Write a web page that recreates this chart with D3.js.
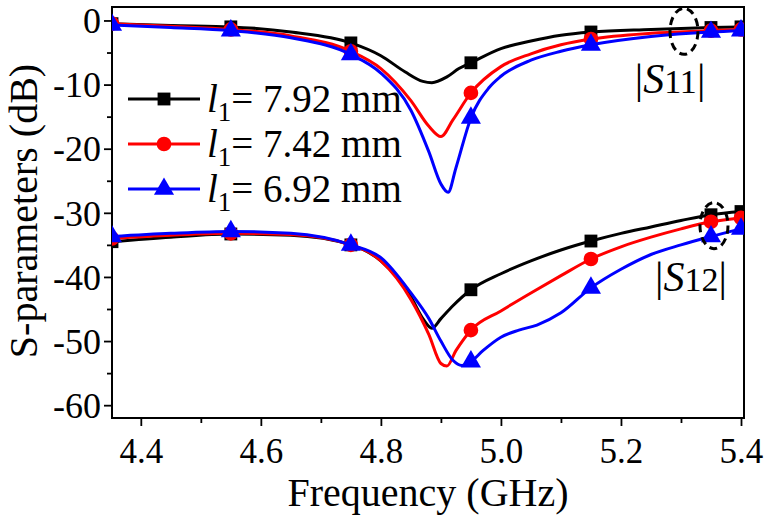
<!DOCTYPE html>
<html>
<head>
<meta charset="utf-8">
<script src="https://cdn.jsdelivr.net/npm/d3@7"></script>
<style>
  body { margin: 0; background: #fff; }
  text { font-family: "Liberation Serif", "Times New Roman", serif; fill: #000; }
</style>
</head>
<body>
<div id="chart"></div>
<script>
const freq11 = [4.352, 4.45, 4.55, 4.65, 4.75, 4.8, 4.84, 4.87, 4.885, 4.91, 4.93, 4.95, 5.0, 5.05, 5.1, 5.15, 5.25, 5.35, 5.4];
const s11Black = [-0.5, -0.8, -1.0, -1.8, -3.5, -5.5, -8, -9.5, -9.7, -8.8, -7.5, -6.6, -4.4, -3.2, -2.3, -1.8, -1.4, -1.1, -1.0];

const freq11r = [4.352, 4.45, 4.55, 4.65, 4.75, 4.8, 4.85, 4.88, 4.9, 4.92, 4.95, 5.0, 5.05, 5.1, 5.15, 5.25, 5.35, 5.4];
const s11Red = [-0.5, -0.9, -1.4, -2.4, -4.8, -7.5, -12.5, -16.5, -18.1, -15.5, -11.3, -7.2, -5.2, -3.8, -2.9, -2.0, -1.6, -1.4];

const freq11b = [4.352, 4.45, 4.55, 4.65, 4.75, 4.8, 4.85, 4.88, 4.9, 4.912, 4.925, 4.95, 4.98, 5.0, 5.05, 5.1, 5.15, 5.25, 5.35, 5.4];
const s11Blue = [-0.7, -1.1, -1.6, -2.7, -5.3, -8.2, -14, -20.5, -25.5, -26.8, -23, -15.2, -10.5, -8.7, -6.2, -4.8, -3.8, -2.5, -1.8, -1.6];

const freq12k = [4.352, 4.45, 4.55, 4.65, 4.75, 4.8, 4.85, 4.87, 4.885, 4.9, 4.92, 4.95, 5.0, 5.05, 5.1, 5.15, 5.2, 5.25, 5.3, 5.35, 5.4];
const s12Black = [-34.5, -33.8, -33.3, -33.5, -35, -37.5, -43.1, -46.5, -48, -46.5, -44.5, -42, -39.5, -37.5, -35.8, -34.4, -33.2, -32.2, -31.2, -30.3, -29.8];

const freq12r = [4.352, 4.45, 4.55, 4.65, 4.75, 4.8, 4.85, 4.88, 4.9, 4.91, 4.925, 4.95, 5.0, 5.05, 5.1, 5.15, 5.2, 5.25, 5.3, 5.35, 5.4];
const s12Red = [-34, -33.5, -33.2, -33.4, -35, -37.5, -43.5, -49, -53.5, -53.9, -51.5, -48.3, -45.3, -42.5, -39.8, -37.2, -35.3, -33.8, -32.5, -31.4, -30.8];

const freq12b = [4.352, 4.45, 4.55, 4.65, 4.75, 4.8, 4.85, 4.88, 4.9, 4.92, 4.935, 4.95, 4.97, 5.0, 5.03, 5.06, 5.1, 5.15, 5.2, 5.25, 5.3, 5.35, 5.4];
const s12Blue = [-33.7, -33.2, -32.9, -33.2, -35, -37, -42.5, -46.5, -50, -53, -53.8, -53.2, -51.5, -49.4, -48.3, -47.5, -45.6, -41.7, -38.8, -36.5, -35, -33.7, -32.5];

const markerFreqs = [4.352, 4.55, 4.75, 4.95, 5.15, 5.35, 5.4];
const legendLabels = ["7.92 mm", "7.42 mm", "6.92 mm"];
const xTicks = [4.4, 4.6, 4.8, 5.0, 5.2, 5.4];
const xMinor = [4.5, 4.7, 4.9, 5.1, 5.3];
const yTicks = [-60, -50, -40, -30, -20, -10, 0];
const yMinor = [-55, -45, -35, -25, -15, -5];

(function() {
  const width = 775, height = 520;
  const left = 112, right = 744, top = 7, bottom = 418;

  const svg = d3.select("#chart").append("svg")
    .attr("width", width).attr("height", height);

  const x = d3.scaleLinear().domain([4.352, 5.405]).range([left, right]);
  const y = d3.scaleLinear().domain([-62, 2.1]).range([bottom, top]);

  svg.append("defs").append("clipPath").attr("id", "clip")
    .append("rect").attr("x", left).attr("y", top)
    .attr("width", right - left).attr("height", bottom - top);

  // axes
  const xAxis = svg.append("g").attr("transform", `translate(0,${bottom})`)
    .call(d3.axisBottom(x).tickValues(xTicks).tickFormat(d3.format(".1f")).tickSize(8).tickSizeOuter(0));
  svg.append("g").attr("transform", `translate(0,${bottom})`)
    .call(d3.axisBottom(x).tickValues(xMinor).tickFormat("").tickSize(5).tickSizeOuter(0));
  const yAxis = svg.append("g").attr("transform", `translate(${left},0)`)
    .call(d3.axisLeft(y).tickValues(yTicks).tickFormat(d3.format("d")).tickSize(8).tickSizeOuter(0));
  svg.append("g").attr("transform", `translate(${left},0)`)
    .call(d3.axisLeft(y).tickValues(yMinor).tickFormat("").tickSize(5).tickSizeOuter(0));

  svg.selectAll(".domain").remove();
  svg.selectAll(".tick line").attr("stroke", "#000").attr("stroke-width", 1.8);
  xAxis.selectAll(".tick text").attr("font-size", 35).attr("dy", "0.71em").attr("y", 20);
  yAxis.selectAll(".tick text").attr("font-size", 36).attr("x", -11).attr("dy", "0.34em")
    .text(d => d === 0 ? "0" : "-" + Math.abs(d));

  svg.append("rect").attr("x", left).attr("y", top)
    .attr("width", right - left).attr("height", bottom - top)
    .attr("fill", "none").attr("stroke", "#000").attr("stroke-width", 2);

  svg.append("text").attr("x", (left + right) / 2).attr("y", 506)
    .attr("text-anchor", "middle").attr("font-size", 40).text("Frequency (GHz)");
  svg.append("text").attr("transform", "translate(37,211) rotate(-90)")
    .attr("text-anchor", "middle").attr("font-size", 40).text("S-parameters (dB)");

  const series = [
    { f: freq11, v: s11Black, color: "#000", shape: "square" },
    { f: freq11r, v: s11Red, color: "#ff0000", shape: "circle" },
    { f: freq11b, v: s11Blue, color: "#0000ff", shape: "triangle" },
    { f: freq12k, v: s12Black, color: "#000", shape: "square" },
    { f: freq12r, v: s12Red, color: "#ff0000", shape: "circle" },
    { f: freq12b, v: s12Blue, color: "#0000ff", shape: "triangle" }
  ];

  const line = d3.line().x(d => x(d[0])).y(d => y(d[1])).curve(d3.curveMonotoneX);
  const sym = {
    square: d3.symbol().type(d3.symbolSquare).size(165),
    circle: d3.symbol().type(d3.symbolCircle).size(170),
    triangle: d3.symbol().type(d3.symbolTriangle).size(175)
  };

  const plot = svg.append("g").attr("clip-path", "url(#clip)");
  series.forEach(s => {
    const pts = s.f.map((f, i) => [f, s.v[i]]);
    plot.append("path").datum(pts)
      .attr("fill", "none").attr("stroke", s.color).attr("stroke-width", 3)
      .attr("d", line);
    const mk = markerFreqs.map(m => pts.find(p => Math.abs(p[0] - m) < 1e-9)).filter(Boolean);
    plot.selectAll(null).data(mk).join("path")
      .attr("transform", d => `translate(${x(d[0])},${y(d[1])})`)
      .attr("d", sym[s.shape]).attr("fill", s.color);
  });

  // legend
  const lg = svg.append("g");
  const lgColors = ["#000", "#ff0000", "#0000ff"];
  const lgShapes = ["square", "circle", "triangle"];
  legendLabels.forEach((lab, i) => {
    const yy = 99 + i * 45;
    lg.append("line").attr("x1", 128).attr("x2", 200).attr("y1", yy).attr("y2", yy)
      .attr("stroke", lgColors[i]).attr("stroke-width", 3);
    lg.append("path").attr("transform", `translate(164,${yy})`).attr("d", sym[lgShapes[i]]).attr("fill", lgColors[i]);
    const t = lg.append("text").attr("x", 207).attr("y", yy + 13).attr("font-size", 39);
    t.append("tspan").attr("font-style", "italic").text("l");
    t.append("tspan").attr("font-size", 27).attr("dy", 9).text("1");
    t.append("tspan").attr("dy", -9).text("= " + lab);
  });

  // port labels
  const portLabel = (cx, cy, sub) => {
    const t = svg.append("text").attr("x", cx).attr("y", cy).attr("text-anchor", "middle").attr("font-size", 42);
    t.append("tspan").text("|");
    t.append("tspan").attr("font-style", "italic").text("S");
    t.append("tspan").attr("font-size", 34).text(sub);
    t.append("tspan").text("|");
  };
  portLabel(670, 93, "11");
  portLabel(691, 291, "12");

  // dashed ellipses
  [[5.305, -1.7], [5.355, -32.0]].forEach(e => {
    svg.append("ellipse").attr("cx", x(e[0])).attr("cy", y(e[1]))
      .attr("rx", 14).attr("ry", 23)
      .attr("fill", "none").attr("stroke", "#000").attr("stroke-width", 3)
      .attr("stroke-dasharray", "8,5");
  });
})();
</script>
</body>
</html>
